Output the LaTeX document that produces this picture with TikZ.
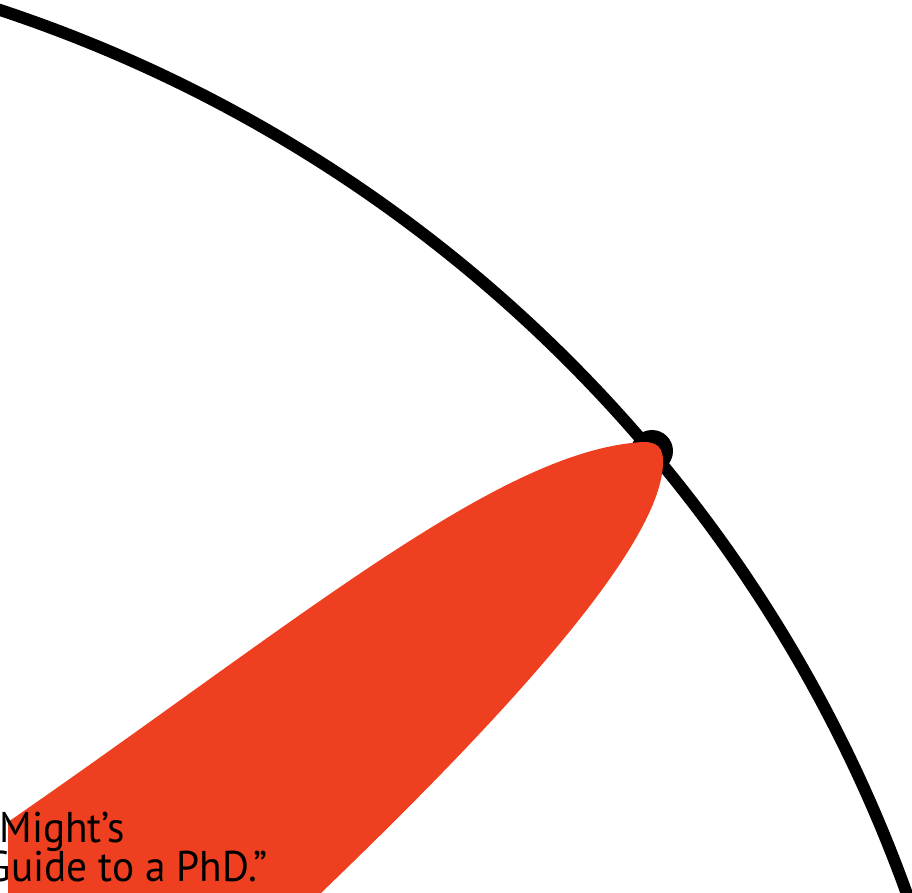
\documentclass[tikz,border=0pt]{standalone}
\usepackage{fontspec}
\setmainfont{PT Sans}
\definecolor{leafred}{RGB}{238,64,32}
\tikzset{
  orbit/.style={line width=12pt, draw=black},
  leaf/.style={fill=leafred, draw=none},
  caption/.style={anchor=base east, inner sep=0pt, font=\fontsize{43}{43}\selectfont, transform shape}
}
\begin{document}
\begin{tikzpicture}[x=1pt,y=-1pt]
\useasboundingbox (0,0) rectangle (912,892);
\clip (0,0) rectangle (912,892);
\fill[white] (0,0) rectangle (912,892);
% big arc
\draw[orbit] (-455,1384) circle[radius=1447pt];
% knob at tip
\fill[black] (652,451) circle[radius=21pt];
% leaf
\fill[leaf] (8,822) .. controls (300,620) and (500,450) .. (643,442)
  .. controls (656,441) and (664,450) .. (663,462)
  .. controls (663,550) and (480,740) .. (322,892)
  -- (300,920) -- (8,920) -- cycle;
\fill[leaf] (650,455) circle[radius=12pt];
% captions
\node[caption, xscale=0.96] (l1) at (125,842) {Might’s};
\node[caption, xscale=0.96] (l2) at (268,881) {Guide to a PhD.”};
\end{tikzpicture}
\end{document}
